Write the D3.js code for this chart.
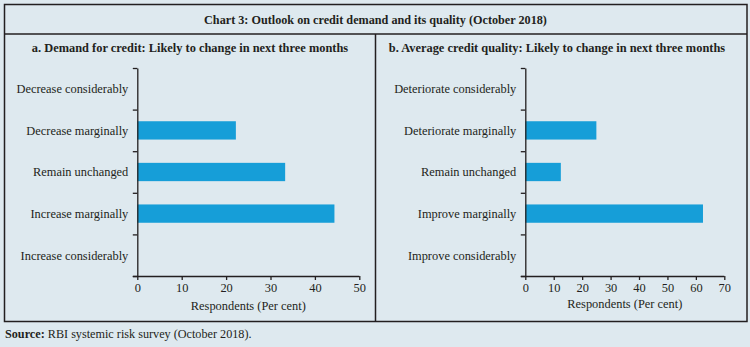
<!DOCTYPE html>
<html>
<head>
<meta charset="utf-8">
<script src="https://cdn.jsdelivr.net/npm/d3@7"></script>
<style>
  body { margin: 0; background: #dee9ef; }
  text { font-family: "Liberation Serif", serif; fill: #231f20; }
</style>
</head>
<body>
<script>
// data
var demandCats = ["Decrease considerably", "Decrease marginally", "Remain unchanged", "Increase marginally", "Increase considerably"];
var demandVals = [0, 22.2, 33.3, 44.4, 0];
var demandTicks = [0, 10, 20, 30, 40, 50];

var qualityCats = ["Deteriorate considerably", "Deteriorate marginally", "Remain unchanged", "Improve marginally", "Improve considerably"];
var qualityVals = [0, 25, 12.5, 62.5, 0];
var qualityTicks = [0, 10, 20, 30, 40, 50, 60, 70];

var W = 750, H = 347;
var ink = "#231f20";
var barColor = "#169ed8";

var svg = d3.select("body").append("svg")
    .attr("width", W)
    .attr("height", H);

svg.append("rect")
    .attr("width", W)
    .attr("height", H)
    .attr("fill", "#dee9ef");

// frame
svg.append("rect")
    .attr("x", 4.5).attr("y", 4.5)
    .attr("width", 742.5).attr("height", 317)
    .attr("fill", "none")
    .attr("stroke", ink)
    .attr("stroke-width", 1.5);

svg.append("line")
    .attr("x1", 4.5).attr("x2", 747)
    .attr("y1", 34).attr("y2", 34)
    .attr("stroke", ink).attr("stroke-width", 1.5);

svg.append("line")
    .attr("x1", 375.5).attr("x2", 375.5)
    .attr("y1", 34).attr("y2", 321.5)
    .attr("stroke", ink).attr("stroke-width", 1.5);

svg.append("text")
    .attr("x", 375.5).attr("y", 24)
    .attr("text-anchor", "middle")
    .attr("font-size", 12.2)
    .attr("font-weight", "bold")
    .text("Chart 3: Outlook on credit demand and its quality (October 2018)");

svg.append("text")
    .attr("x", 5).attr("y", 338)
    .attr("font-size", 12.2)
    .call(function(t) {
        t.append("tspan").attr("font-weight", "bold").text("Source:");
        t.append("tspan").text(" RBI systemic risk survey (October 2018).");
    });

function panel(opts) {
    var g = svg.append("g");

    g.append("text")
        .attr("x", opts.titleX).attr("y", 51.5)
        .attr("text-anchor", "middle")
        .attr("font-size", 12.4)
        .attr("font-weight", "bold")
        .text(opts.title);

    var x = d3.scaleLinear()
        .domain([0, opts.max])
        .range([opts.x0, opts.x1]);

    var y = d3.scaleBand()
        .domain(opts.cats)
        .range([68, 276])
        .paddingInner(0.56)
        .paddingOuter(0.28);

    // boundaries between categories for the y ticks
    var yb = d3.scaleLinear()
        .domain([0, opts.cats.length])
        .range([68, 276]);

    g.selectAll(".bar")
        .data(opts.vals)
        .enter().append("rect")
        .attr("class", "bar")
        .attr("x", x(0))
        .attr("y", function(d, i) { return y(opts.cats[i]); })
        .attr("width", function(d) { return x(d) - x(0); })
        .attr("height", y.bandwidth())
        .attr("fill", barColor);

    var yAxis = g.append("g")
        .attr("transform", "translate(" + x(0) + ",0)")
        .call(d3.axisLeft(yb)
            .tickValues(d3.range(opts.cats.length + 1))
            .tickFormat("")
            .tickSize(4.5)
            .tickSizeOuter(0));
    yAxis.select(".domain").attr("stroke", ink).attr("stroke-width", 1.3);
    yAxis.selectAll(".tick line").attr("stroke", ink).attr("stroke-width", 1.3);

    g.selectAll(".cat")
        .data(opts.cats)
        .enter().append("text")
        .attr("class", "cat")
        .attr("x", x(0) - 9)
        .attr("y", function(d) { return y(d) + y.bandwidth() / 2; })
        .attr("dy", "0.35em")
        .attr("text-anchor", "end")
        .attr("font-size", 12.4)
        .text(function(d) { return d; });

    var xAxis = g.append("g")
        .attr("transform", "translate(0,276)")
        .call(d3.axisBottom(x)
            .tickValues(opts.ticks)
            .tickSize(4)
            .tickSizeOuter(0)
            .tickPadding(3));
    xAxis.select(".domain").attr("stroke", ink).attr("stroke-width", 1.3)
        .attr("d", "M" + (x(0) - 4.5) + ",0.5H" + x(opts.max));
    xAxis.selectAll(".tick line").attr("stroke", ink).attr("stroke-width", 1.3);
    xAxis.selectAll(".tick text")
        .attr("font-family", "Liberation Serif, serif")
        .attr("font-size", 12.4)
        .attr("fill", ink);

    g.append("text")
        .attr("x", (opts.x0 + opts.x1) / 2)
        .attr("y", opts.axisTitleY)
        .attr("text-anchor", "middle")
        .attr("font-size", 12.4)
        .text("Respondents (Per cent)");
}

panel({
    title: "a. Demand for credit: Likely to change in next three months",
    titleX: 190,
    cats: demandCats,
    vals: demandVals,
    ticks: demandTicks,
    max: 50,
    x0: 137.3, x1: 359.3,
    axisTitleY: 309.5
});

panel({
    title: "b. Average credit quality: Likely to change in next three months",
    titleX: 557,
    cats: qualityCats,
    vals: qualityVals,
    ticks: qualityTicks,
    max: 70,
    x0: 525.3, x1: 724.3,
    axisTitleY: 308
});
</script>
</body>
</html>
